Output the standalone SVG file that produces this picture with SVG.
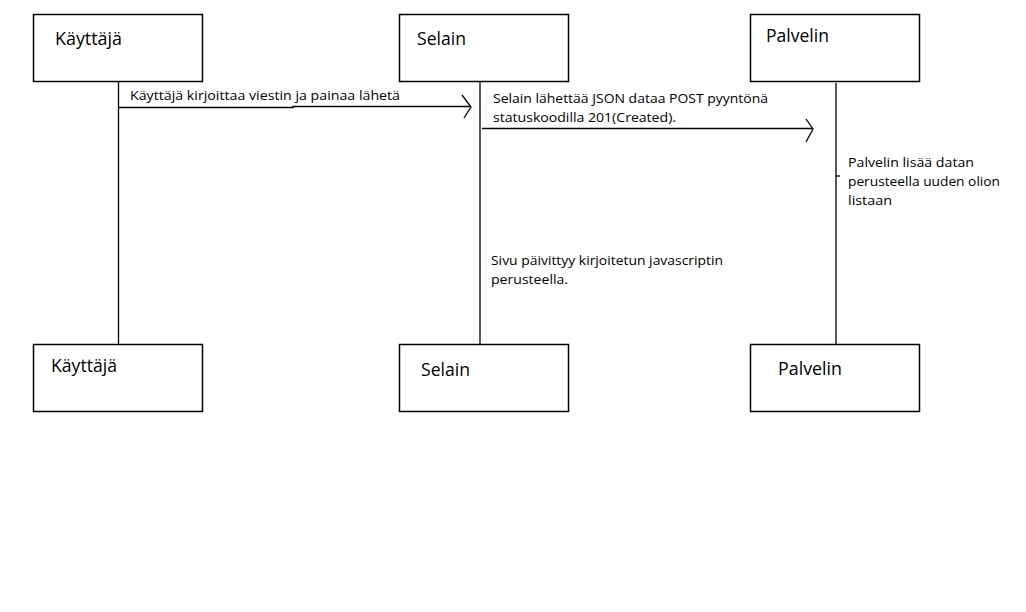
<svg xmlns="http://www.w3.org/2000/svg" width="1026" height="612" viewBox="0 0 1026 612">
<style>
.box{fill:#fff;stroke:#000;stroke-width:1.5}
.ln{fill:none;stroke:#000;stroke-width:1.3}
.t{font-family:"Open Sans","Liberation Sans",sans-serif;fill:#000}
.h{font-size:18px}
.s{font-size:13px}
</style>
<rect width="1026" height="612" fill="#fff"/>
<g id="connectors">
<line class="ln" x1="118.5" y1="81" x2="118.5" y2="344"/>
<line class="ln" x1="480" y1="81" x2="480" y2="344"/>
<line class="ln" x1="836" y1="83" x2="836" y2="344"/>
<line class="ln" x1="836" y1="176" x2="840" y2="176"/>
<polyline class="ln" points="118,107.5 293,107.5 293,106.5 470,106.5"/>
<polyline class="ln" points="462,95 471,107 464,118"/>
<line class="ln" x1="482" y1="128.5" x2="812" y2="128.5"/>
<polyline class="ln" points="806,119 813,129 806,142"/>
<text class="t s" x="130" y="100" textLength="270" lengthAdjust="spacingAndGlyphs">Käyttäjä kirjoittaa viestin ja painaa lähetä</text>
<text class="t s" x="493" y="103" textLength="275" lengthAdjust="spacingAndGlyphs">Selain lähettää JSON dataa POST pyyntönä</text>
<text class="t s" x="493" y="122" textLength="183" lengthAdjust="spacingAndGlyphs">statuskoodilla 201(Created).</text>
</g>
<g id="note-palvelin">
<text class="t s" x="848" y="167" textLength="126" lengthAdjust="spacingAndGlyphs">Palvelin lisää datan</text>
<text class="t s" x="848" y="186" textLength="152" lengthAdjust="spacingAndGlyphs">perusteella uuden olion</text>
<text class="t s" x="848" y="205" textLength="44" lengthAdjust="spacingAndGlyphs">listaan</text>
</g>
<g id="note-sivu">
<text class="t s" x="491" y="265" textLength="232" lengthAdjust="spacingAndGlyphs">Sivu päivittyy kirjoitetun javascriptin</text>
<text class="t s" x="491" y="284" textLength="77" lengthAdjust="spacingAndGlyphs">perusteella.</text>
</g>
<g id="kayttaja-top">
<rect class="box" x="33.5" y="14.5" width="169" height="67"/>
<text class="t h" x="55" y="45" textLength="67" lengthAdjust="spacingAndGlyphs">Käyttäjä</text>
</g>
<g id="selain-top">
<rect class="box" x="399.5" y="14.5" width="169" height="67"/>
<text class="t h" x="417" y="45" textLength="49" lengthAdjust="spacingAndGlyphs">Selain</text>
</g>
<g id="palvelin-top">
<rect class="box" x="750.5" y="14.5" width="169" height="67"/>
<text class="t h" x="766" y="42" textLength="63" lengthAdjust="spacingAndGlyphs">Palvelin</text>
</g>
<g id="kayttaja-bottom">
<rect class="box" x="33.5" y="344.5" width="169" height="67"/>
<text class="t h" x="51" y="372" textLength="66" lengthAdjust="spacingAndGlyphs">Käyttäjä</text>
</g>
<g id="selain-bottom">
<rect class="box" x="399.5" y="344.5" width="169" height="67"/>
<text class="t h" x="421" y="376" textLength="49" lengthAdjust="spacingAndGlyphs">Selain</text>
</g>
<g id="palvelin-bottom">
<rect class="box" x="750.5" y="344.5" width="169" height="67"/>
<text class="t h" x="778" y="375" textLength="64" lengthAdjust="spacingAndGlyphs">Palvelin</text>
</g>
</svg>
